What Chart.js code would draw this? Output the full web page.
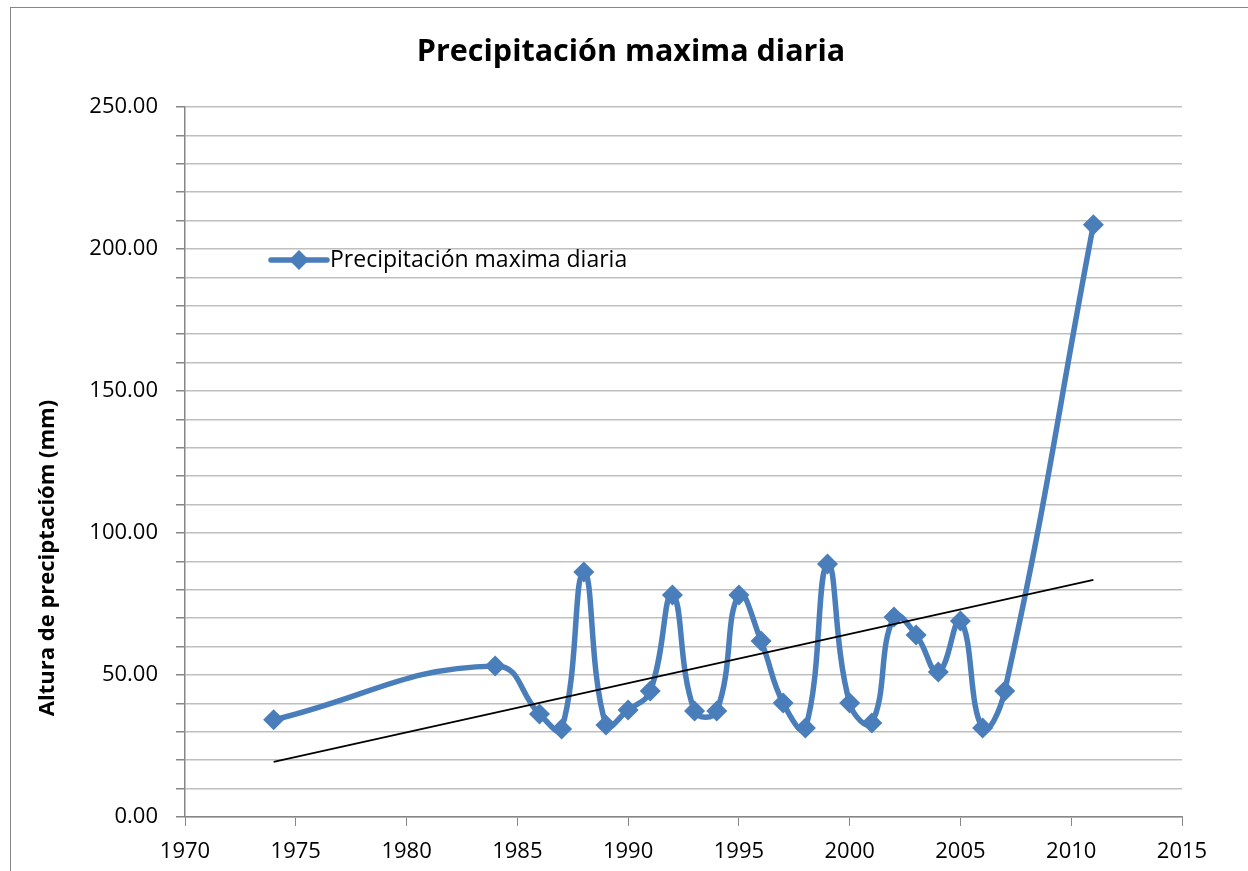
<!DOCTYPE html>
<html>
<head>
<meta charset="utf-8">
<script src="https://cdn.jsdelivr.net/npm/chart.js@4/dist/chart.umd.min.js"></script>
<style>
  body { margin: 0; background: #fff; }
</style>
</head>
<body>
<canvas id="lineChart" width="1248" height="871"></canvas>
<script>
let years = [1974, 1984, 1986, 1987, 1988, 1989, 1990, 1991, 1992, 1993, 1994, 1995, 1996,
    1997, 1998, 1999, 2000, 2001, 2002, 2003, 2004, 2005, 2006, 2007, 2011]
let precip = [34.2, 53.2, 36.3, 31.0, 86.3, 32.4, 37.7, 44.4, 78.2, 37.3, 37.3, 78.2, 62.0,
    40.1, 31.3, 89.1, 40.1, 33.1, 70.4, 64.1, 51.1, 69.0, 31.3, 44.4, 208.5]
let trendYears = [1974, 2011]
let trendValues = [19.4, 83.5]

let seriesName = 'Precipitación maxima diaria'
let yTitle = 'Altura de preciptacióm (mm)'
let color_blue = '#4a7ebb'
let color_grid = '#bfbfbf'
let color_axis = '#868686'
let fontFamily = '"Open Sans", "Liberation Sans", sans-serif'

let toPoints = function (xs, ys) {
    return xs.map(function (x, i) { return { x: x, y: ys[i] } })
}

// white background, outer frame, y title and the legend placed inside the plot
let framePlugin = {
    id: 'frame',
    beforeDraw: function (chart) {
        let ctx = chart.ctx
        ctx.save()
        ctx.fillStyle = '#fff'
        ctx.fillRect(0, 0, chart.width, chart.height)
        ctx.strokeStyle = color_axis
        ctx.lineWidth = 1
        ctx.strokeRect(10.5, 7.5, 1400, 1000)
        ctx.restore()
    },
    afterDraw: function (chart) {
        let ctx = chart.ctx
        let area = chart.chartArea
        ctx.save()
        // y axis title, sits a bit below the middle like the original
        ctx.translate(48, area.top + 451)
        ctx.rotate(-Math.PI / 2)
        ctx.fillStyle = '#000'
        ctx.font = 'bold 22px ' + fontFamily
        ctx.textAlign = 'center'
        ctx.textBaseline = 'middle'
        ctx.fillText(yTitle, 0, 0)
        ctx.restore()

        let x0 = area.left + 86
        let y0 = area.top + 153
        ctx.save()
        ctx.strokeStyle = color_blue
        ctx.lineWidth = 5.5
        ctx.lineCap = 'round'
        ctx.beginPath()
        ctx.moveTo(x0, y0)
        ctx.lineTo(x0 + 56, y0)
        ctx.stroke()
        ctx.fillStyle = color_blue
        ctx.beginPath()
        ctx.moveTo(x0 + 28, y0 - 10)
        ctx.lineTo(x0 + 38, y0)
        ctx.lineTo(x0 + 28, y0 + 10)
        ctx.lineTo(x0 + 18, y0)
        ctx.closePath()
        ctx.fill()
        ctx.fillStyle = '#000'
        ctx.font = '23px ' + fontFamily
        ctx.textBaseline = 'middle'
        ctx.fillText(seriesName, x0 + 59, y0)
        ctx.restore()
    }
}

let lineChartDraw = function () {
    let ctx = document.getElementById('lineChart').getContext('2d')

    window.lineChart = new Chart(ctx, {
        type: 'line',
        data: {
            datasets: [{
                label: seriesName,
                data: toPoints(years, precip),
                borderColor: color_blue,
                backgroundColor: color_blue,
                borderWidth: 5.5,
                borderCapStyle: 'round',
                tension: 0.45,
                pointStyle: 'rectRot',
                pointRadius: 10.5,
                pointBorderWidth: 0,
                order: 1
            }, {
                label: 'Tendencia',
                data: toPoints(trendYears, trendValues),
                borderColor: '#000',
                borderWidth: 1.6,
                pointRadius: 0,
                tension: 0,
                order: 0
            }]
        },
        options: {
            responsive: false,
            animation: false,
            devicePixelRatio: 1,
            layout: { padding: { left: 80, right: 66, top: 0, bottom: 0 } },
            plugins: {
                legend: { display: false },
                tooltip: { enabled: false },
                title: {
                    display: true,
                    text: 'Precipitación maxima diaria',
                    color: '#000',
                    font: { family: fontFamily, size: 30.5, weight: 'bold', lineHeight: 1.2 },
                    padding: { top: 33.7, bottom: 36.7 }
                }
            },
            scales: {
                x: {
                    type: 'linear',
                    min: 1970,
                    max: 2015,
                    afterFit: function (scale) { scale.height = 54 },
                    ticks: {
                        stepSize: 5,
                        color: '#000',
                        padding: 13,
                        maxRotation: 0,
                        font: { family: fontFamily, size: 22 },
                        callback: function (v) { return String(v) }
                    },
                    grid: { drawOnChartArea: false, color: color_axis, tickLength: 9 },
                    border: { color: color_axis, width: 1.5 }
                },
                y: {
                    min: 0,
                    max: 250,
                    afterFit: function (scale) { scale.width = 105 },
                    ticks: {
                        stepSize: 10,
                        autoSkip: false,
                        color: '#000',
                        padding: 18,
                        font: { family: fontFamily, size: 22 },
                        callback: function (v) { return v % 50 === 0 ? v.toFixed(2) : '' }
                    },
                    grid: { color: color_grid, lineWidth: 1.5, tickLength: 9, tickColor: color_axis },
                    border: { color: color_axis, width: 1.5 }
                }
            }
        },
        plugins: [framePlugin]
    })
}

window.addEventListener('load', function () {
    lineChartDraw()
})
</script>
</body>
</html>
